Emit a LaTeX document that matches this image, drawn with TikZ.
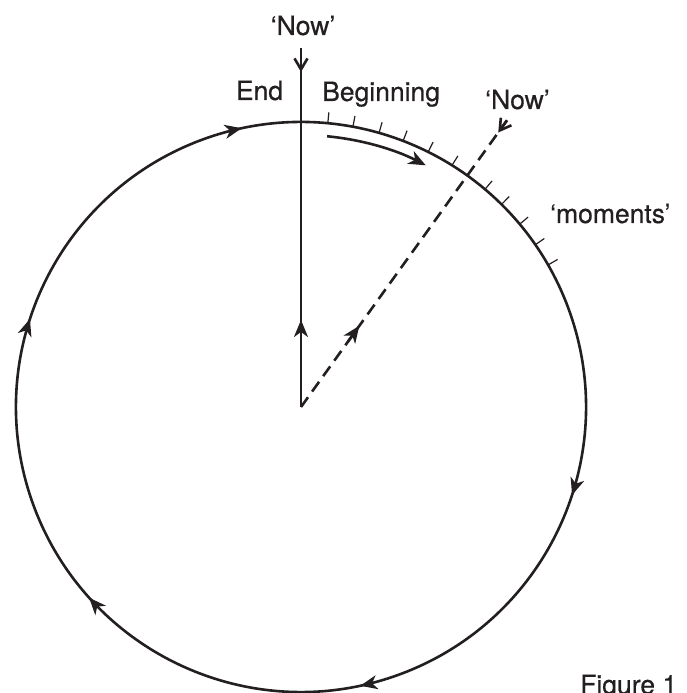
\documentclass[tikz,border=0pt]{standalone}
\usepackage{fontspec}
\newfontfamily\labelfont[FakeBold=0.5]{TeX Gyre Heros}
\usetikzlibrary{arrows.meta,decorations.markings}
\definecolor{ink}{HTML}{231F20}
\begin{document}
\begin{tikzpicture}[x=1pt,y=1pt,line join=round,
  ring/.style={draw=ink,line width=2.6pt},
  tickline/.style={draw=ink,line width=1.2pt},
  dashline/.style={draw=ink,line width=2.6pt,dash pattern=on 12pt off 7pt},
  lbl/.style={text=ink,inner sep=0pt,font=\labelfont\fontsize{26.5}{30}\selectfont},
  fillhead/.style={-{Stealth[length=17pt,width=14pt,inset=5pt]}},
  openhead/.style={-{Straight Barb[length=11pt,width=13pt]}}]
\useasboundingbox (0,0) rectangle (686,693);
\coordinate (C) at (301,286);
% main circle, drawn clockwise with arrowheads
\draw[ring,postaction={decorate},decoration={markings,
  mark=at position 0.02222 with {\arrow{Stealth[length=17pt,width=14pt,inset=5pt]}},
  mark=at position 0.35556 with {\arrow{Stealth[length=17pt,width=14pt,inset=5pt]}},
  mark=at position 0.52222 with {\arrow{Stealth[length=17pt,width=14pt,inset=5pt]}},
  mark=at position 0.68889 with {\arrow{Stealth[length=17pt,width=14pt,inset=5pt]}},
  mark=at position 0.85556 with {\arrow{Stealth[length=17pt,width=14pt,inset=5pt]}}}]
  (C) ++(110:285) arc[start angle=110,end angle=-250,radius=285];
% ticks ('moments')
\foreach \a in {84.6,79.5,74.1,69.0,63.5,58.0,49.8,45.3,39.9,34.7,29.9}
  \draw[tickline,shift={(301,286)}] (\a:285) -- (\a:296);
% inner curved arrow
\draw[ring,fillhead] (C) ++(84.5:272) arc[start angle=84.5,end angle=62.7,radius=272];
% vertical 'Now' line
\coordinate (Vtop) at (301,645);
\coordinate (Vtip) at (301,621);
\coordinate (Vm0) at (301,353);
\coordinate (Vm1) at (301,373);
\draw[ring] (C) -- (Vtop);
\draw[ring,openhead] (Vtop) -- (Vtip);
\draw[ring,fillhead] (Vm0) -- (Vm1);
% dashed 'Now' line
\path (C) ++(54.3:353) coordinate (Dend)
      (C) ++(54.3:338) coordinate (Dtip)
      (C) ++(54.3:80) coordinate (Dm0)
      (C) ++(54.3:100) coordinate (Dm1);
\draw[dashline] (C) -- (Dend);
\draw[ring,openhead] (Dend) -- (Dtip);
\draw[ring,fillhead] (Dm0) -- (Dm1);
% labels
\node[lbl,anchor=base] (now1) at (303,658) {‘Now’};
\node[lbl,anchor=base] (end) at (259.5,593) {End};
\node[lbl,anchor=base west] (beg) at (322,592) {Beginning};
\node[lbl,anchor=base west] (now2) at (485,584) {‘Now’};
\node[lbl,anchor=base west] (mom) at (550,470) {‘moments’};
\node[lbl,anchor=base west] (fig) at (580,-1) {Figure 1};
\end{tikzpicture}
\end{document}
